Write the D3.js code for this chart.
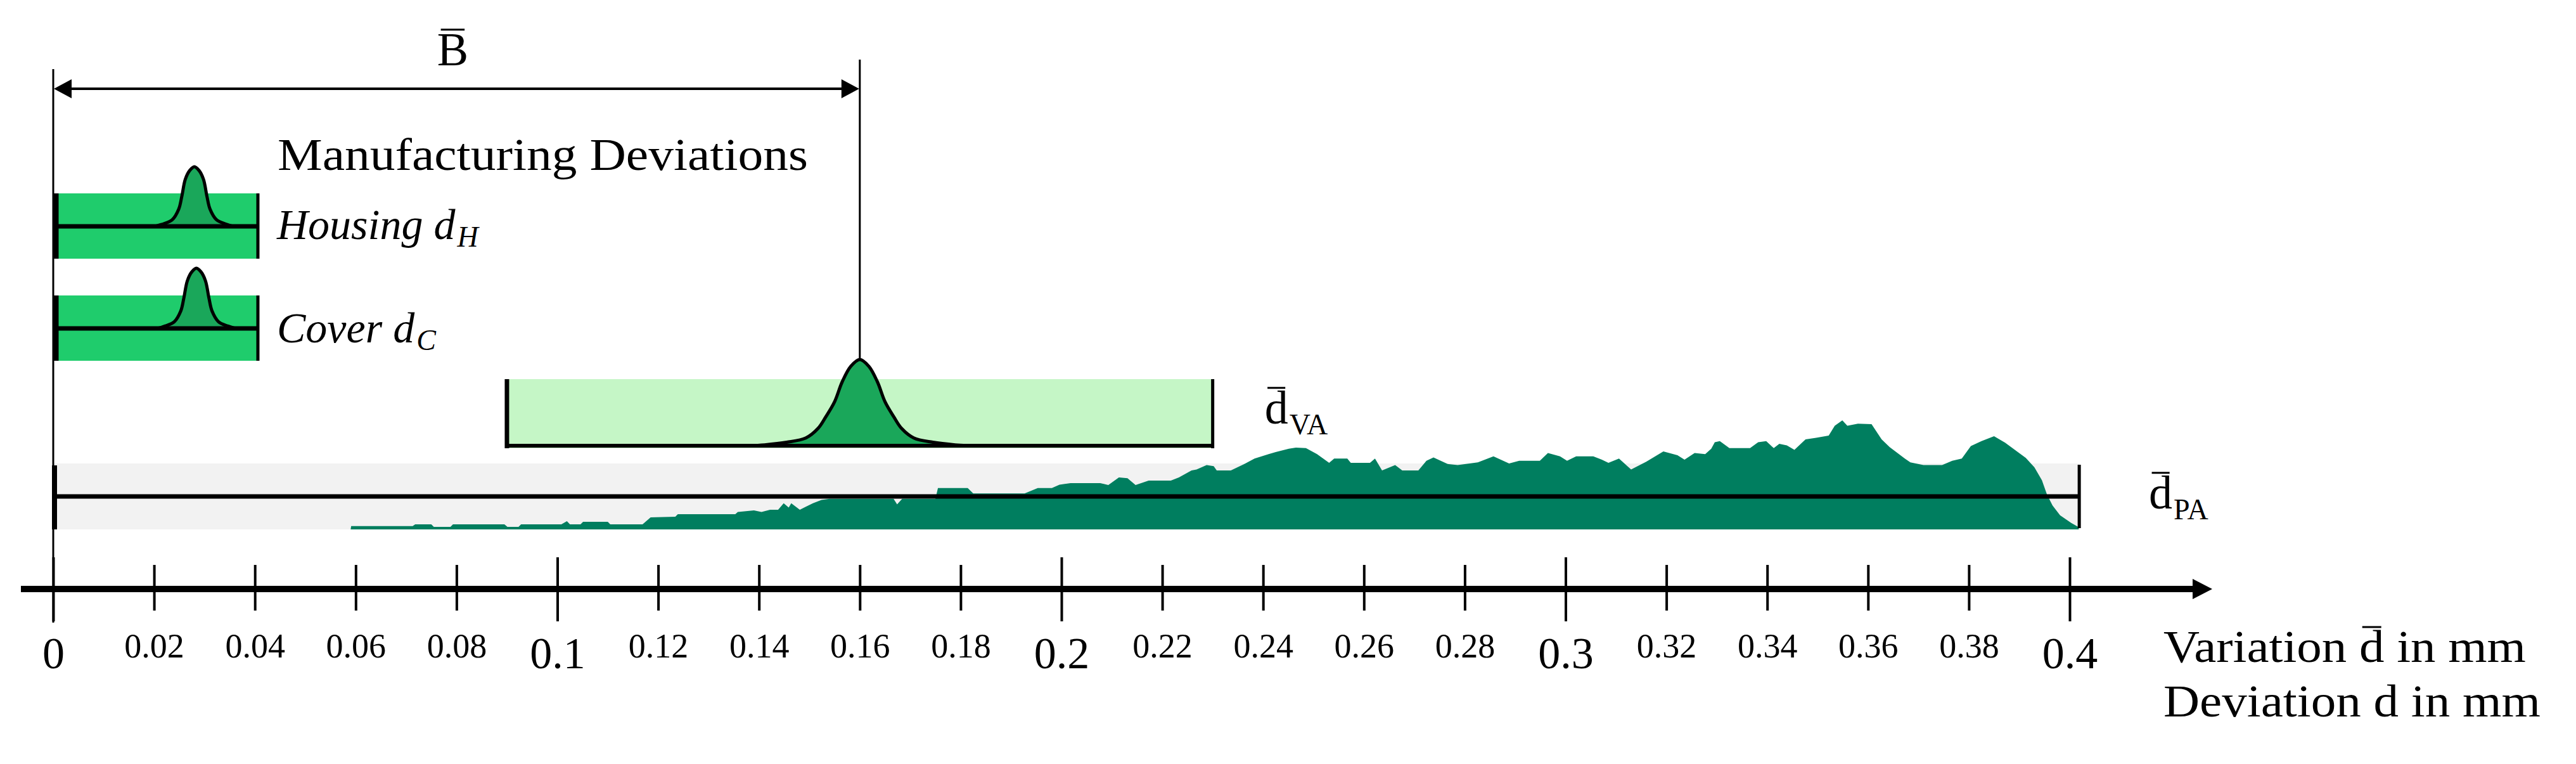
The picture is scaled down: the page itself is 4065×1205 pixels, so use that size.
<!DOCTYPE html>
<html>
<head>
<meta charset="utf-8">
<script src="https://cdn.jsdelivr.net/npm/d3@7"></script>
<style>
    html, body { margin: 0; padding: 0; background: #fff; }
    svg { display: block; font-family: "Liberation Serif", "DejaVu Serif", serif; }
</style>
</head>
<body>
<svg id="chart" width="4065" height="1205"></svg>
<script>
// --- Data ---
const tickValues = [0, 0.02, 0.04, 0.06, 0.08, 0.1, 0.12, 0.14, 0.16, 0.18, 0.2,
                    0.22, 0.24, 0.26, 0.28, 0.3, 0.32, 0.34, 0.36, 0.38, 0.4];
const majorTicks = [0, 0.1, 0.2, 0.3, 0.4];

// Manufacturing deviations of the single parts
const partNames = ["Housing", "Cover"];
const partSymbols = ["H", "C"];
const partRanges = [[0, 0.0406], [0, 0.0406]];
const partPeaks = [0.028, 0.0284];

// Bell shape of the part deviations (offset from peak in mm, relative height)
const partBellOffset = [-0.0078, -0.0062, -0.0044, -0.0031, -0.0025, -0.0018, -0.0009, 0,
                        0.0009, 0.0018, 0.0025, 0.0031, 0.0044, 0.0062, 0.0078];
const partBellHeight = [0, 0.04, 0.11, 0.29, 0.5, 0.79, 0.94, 1,
                        0.94, 0.79, 0.5, 0.29, 0.11, 0.04, 0];

// Variation analysis (VA)
const vaRange = [0.09, 0.23];
const vaPeak = 0.16;
const vaBellOffset = [-0.022, -0.0189, -0.0145, -0.0107, -0.0083, -0.0068, -0.005, -0.0035, -0.0018, 0,
                      0.0018, 0.0035, 0.005, 0.0068, 0.0083, 0.0107, 0.0145, 0.0189, 0.022];
const vaBellHeight = [0, 0.01, 0.04, 0.09, 0.2, 0.33, 0.51, 0.74, 0.92, 1,
                      0.92, 0.74, 0.51, 0.33, 0.2, 0.09, 0.04, 0.01, 0];

// Physical assembly (PA) measured deviations, share of the maximum in %
const paRange = [0, 0.4019];
const paDeviation = [
    0.0590, 0.0591, 0.0713, 0.0718, 0.0750, 0.0755, 0.0788, 0.0793, 0.0895, 0.0901,
    0.0923, 0.0928, 0.1008, 0.1019, 0.1025, 0.1046, 0.1051, 0.1100, 0.1105, 0.1169,
    0.1185, 0.1234, 0.1239, 0.1353, 0.1358, 0.1390, 0.1405, 0.1422, 0.1438, 0.1449,
    0.1459, 0.1464, 0.1481, 0.1507, 0.1524, 0.1540, 0.1667, 0.1674, 0.1684, 0.1750,
    0.1755, 0.1814, 0.1825, 0.1927, 0.1953, 0.1981, 0.1996, 0.2018, 0.2077, 0.2093,
    0.2114, 0.2131, 0.2147, 0.2173, 0.2217, 0.2233, 0.2258, 0.2268, 0.2288, 0.2302,
    0.2308, 0.2336, 0.2363, 0.2383, 0.2411, 0.2425, 0.2451, 0.2465, 0.2485, 0.2507,
    0.2531, 0.2541, 0.2567, 0.2574, 0.2612, 0.2622, 0.2636, 0.2662, 0.2676, 0.2708,
    0.2724, 0.2738, 0.2766, 0.2786, 0.2826, 0.2857, 0.2888, 0.2908, 0.2949, 0.2965,
    0.2989, 0.3003, 0.3021, 0.3055, 0.3072, 0.3085, 0.3106, 0.3130, 0.3160, 0.3194,
    0.3222, 0.3236, 0.3256, 0.3277, 0.3289, 0.3296, 0.3306, 0.3325, 0.3366, 0.3382,
    0.3398, 0.3413, 0.3424, 0.3439, 0.3454, 0.3476, 0.3497, 0.3522, 0.3534, 0.3549,
    0.3559, 0.3580, 0.3607, 0.3627, 0.3643, 0.3673, 0.3684, 0.3710, 0.3747, 0.3767,
    0.3786, 0.3804, 0.3825, 0.3850, 0.3872, 0.3913, 0.3930, 0.3945, 0.3955, 0.3966,
    0.3981, 0.4003, 0.4018];
const paShare = [
    0, 3, 3, 4.7, 4.7, 2.3, 2.3, 4.7, 4.7, 2.3,
    2.3, 4.7, 4.7, 7.6, 4.7, 4.7, 7, 7, 4.7, 4.7,
    11, 11.6, 14, 14, 16, 17.4, 16, 18, 18, 24,
    20, 24, 18, 24, 27, 28, 28, 23, 28, 28,
    38, 38, 33, 33, 38, 38, 41, 42.5, 42.5, 40.7,
    47.7, 47, 40.7, 44.8, 44.8, 47.7, 54, 55, 59, 58,
    54, 54, 60, 65, 69, 71, 74, 75, 74.5, 69,
    61, 65, 65, 61, 61, 65, 54, 59, 54, 54,
    63, 66, 60, 59, 61.5, 67, 60.5, 63, 63, 70,
    67, 63, 67, 67, 64, 61, 65, 55, 62, 71.5,
    68, 64, 70, 69, 74, 80, 81, 74.5, 74.5, 80,
    81, 74.5, 78.5, 77, 73, 82.5, 84, 86, 95, 100,
    95, 97, 96.5, 82.5, 75.5, 65, 61.5, 59, 59, 63,
    65, 76.5, 81, 85.5, 79.5, 65.5, 57, 45, 32, 22,
    13, 6, 2];

// --- Layout ---
const AXIS_Y = 929;
const partRows = [
    { top: 305, bottom: 408, base: 357, bell: 94, label: 377 },
    { top: 466, bottom: 569, base: 518, bell: 95, label: 540 }
];
const VA_ROW = { top: 598, bottom: 707, base: 703, bell: 136 };
const PA_ROW = { top: 731, bottom: 835, base: 783 };

const C_PART = "#1fcc6c";
const C_BELL = "#1aa75a";
const C_VA = "#c5f6c6";
const C_PA = "#007e5f";
const C_GRAY = "#f2f2f2";

const svg = d3.select("#chart");
const x = d3.scaleLinear().domain([0, 0.4]).range([84, 3266]);
const yPa = d3.scaleLinear().domain([0, 100]).range([PA_ROW.bottom, 663]);

function vline(xp, y1, y2, w) {
    svg.append("line").attr("x1", xp).attr("x2", xp).attr("y1", y1).attr("y2", y2)
        .attr("stroke", "#000").attr("stroke-width", w);
}
function hline(x1, x2, yp, w) {
    svg.append("line").attr("x1", x1).attr("x2", x2).attr("y1", yp).attr("y2", yp)
        .attr("stroke", "#000").attr("stroke-width", w);
}

/**
 * Draws a bell shaped distribution on a baseline.
 */
function drawBell(center, offsets, heights, base, h) {
    const pts = offsets.map((o, i) => [x(center + o), base - heights[i] * h]);
    const curve = d3.curveCatmullRom.alpha(0.5);
    svg.append("path")
        .attr("d", d3.area().x(d => d[0]).y0(base).y1(d => d[1]).curve(curve)(pts))
        .attr("fill", C_BELL);
    svg.append("path")
        .attr("d", d3.line().curve(curve)(pts))
        .attr("fill", "none").attr("stroke", "#000").attr("stroke-width", 5)
        .attr("stroke-linejoin", "round");
}

// 1. Physical assembly band with measured distribution
svg.append("rect")
    .attr("x", x(paRange[0])).attr("y", PA_ROW.top)
    .attr("width", x(paRange[1]) - x(paRange[0])).attr("height", PA_ROW.bottom - PA_ROW.top)
    .attr("fill", C_GRAY);

svg.append("path")
    .datum(paDeviation.map((d, i) => [d, paShare[i]]))
    .attr("d", d3.area().x(d => x(d[0])).y0(PA_ROW.bottom).y1(d => yPa(d[1])))
    .attr("fill", C_PA);

hline(x(paRange[0]), x(paRange[1]), PA_ROW.base, 7);
vline(x(paRange[0]) + 2, PA_ROW.top + 3, PA_ROW.bottom, 8);
vline(x(paRange[1]), PA_ROW.top + 2, PA_ROW.bottom - 2, 5);

// 2. Part deviations
partRows.forEach((row, i) => {
    const [a, b] = partRanges[i];
    svg.append("rect")
        .attr("x", x(a)).attr("y", row.top)
        .attr("width", x(b) - x(a)).attr("height", row.bottom - row.top)
        .attr("fill", C_PART);
    drawBell(partPeaks[i], partBellOffset, partBellHeight, row.base, row.bell);
    hline(x(a), x(b), row.base, 7);
    vline(x(a) + 4, row.top, row.bottom, 9);
    vline(x(b), row.top, row.bottom, 5);

    // name + italic d, subscript written as its own text next to it
    const main = svg.append("text")
        .attr("x", x(b) + 30).attr("y", row.label)
        .attr("font-size", 68).attr("font-style", "italic")
        .text(partNames[i] + " d");
    const bb = main.node().getBBox();
    svg.append("text")
        .attr("x", bb.x + bb.width + 2).attr("y", row.label + 12)
        .attr("font-size", 46).attr("font-style", "italic")
        .text(partSymbols[i]);
});

// 3. Variation analysis
svg.append("rect")
    .attr("x", x(vaRange[0])).attr("y", VA_ROW.top)
    .attr("width", x(vaRange[1]) - x(vaRange[0])).attr("height", VA_ROW.bottom - VA_ROW.top)
    .attr("fill", C_VA);
drawBell(vaPeak, vaBellOffset, vaBellHeight, VA_ROW.base, VA_ROW.bell);
hline(x(vaRange[0]), x(vaRange[1]), VA_ROW.base, 6);
vline(x(vaRange[0]), VA_ROW.top, VA_ROW.bottom, 7);
vline(x(vaRange[1]), VA_ROW.top, VA_ROW.bottom, 5);

// 4. Zero line and the B dimension
vline(x(0), 109, 982, 3);
vline(x(vaPeak), 94, VA_ROW.base - VA_ROW.bell, 3);

const DIM_Y = 140;
hline(x(0) + 10, x(vaPeak) - 10, DIM_Y, 4);
svg.append("path").attr("fill", "#000")
    .attr("d", `M${x(0) + 1},${DIM_Y} L${x(0) + 29},${DIM_Y - 15} L${x(0) + 29},${DIM_Y + 15} Z`);
svg.append("path").attr("fill", "#000")
    .attr("d", `M${x(vaPeak) - 1},${DIM_Y} L${x(vaPeak) - 29},${DIM_Y - 15} L${x(vaPeak) - 29},${DIM_Y + 15} Z`);

/**
 * Writes a glyph with an overline bar (used for the mean values).
 */
function barText(xp, yp, size, anchor, str) {
    const t = svg.append("text").attr("x", xp).attr("y", yp)
        .attr("font-size", size).attr("text-anchor", anchor).text(str);
    const bb = t.node().getBBox();
    const lineY = yp - size * 0.76;
    svg.append("line")
        .attr("x1", bb.x + bb.width * 0.12).attr("x2", bb.x + bb.width * 0.88)
        .attr("y1", lineY).attr("y2", lineY)
        .attr("stroke", "#000").attr("stroke-width", 3);
    return bb;
}

barText((x(0) + x(vaPeak)) / 2 - 6, 103, 74, "middle", "B");

svg.append("text").attr("x", 438).attr("y", 268).attr("font-size", 71)
    .attr("textLength", 837).attr("lengthAdjust", "spacingAndGlyphs")
    .text("Manufacturing Deviations");

// 5. Mean value labels
function meanLabel(xp, yp, sub) {
    const bb = barText(xp, yp, 74, "start", "d");
    svg.append("text").attr("x", bb.x + bb.width + 2).attr("y", yp + 17)
        .attr("font-size", 46).text(sub);
}
meanLabel(x(vaRange[1]) + 82, 668, "VA");
meanLabel(x(paRange[1]) + 110, 802, "PA");

// 6. Axis
const isMajor = d => majorTicks.includes(d);
const axis = d3.axisBottom(x).tickValues(tickValues).tickSize(0).tickFormat(d3.format("~g"));
const gAxis = svg.append("g")
    .attr("transform", `translate(0,${AXIS_Y})`)
    .call(axis);
gAxis.attr("font-family", null).attr("font-size", null);
gAxis.select(".domain").remove();
gAxis.selectAll(".tick line")
    .attr("y1", d => isMajor(d) ? -50 : -38)
    .attr("y2", d => isMajor(d) ? 51 : 34)
    .attr("stroke", "#000").attr("stroke-width", 4);
gAxis.selectAll(".tick text")
    .attr("y", d => isMajor(d) ? 125 : 108).attr("dy", 0)
    .attr("font-size", d => isMajor(d) ? 70 : 54)
    .attr("fill", "#000");

hline(33, 3465, AXIS_Y, 10);
svg.append("path").attr("fill", "#000")
    .attr("d", `M3491,${AXIS_Y} L3460,${AXIS_Y - 16} L3460,${AXIS_Y + 16} Z`);

// 7. Axis titles
const vt = svg.append("text").attr("x", 3414).attr("y", 1044).attr("font-size", 71)
    .attr("textLength", 572).attr("lengthAdjust", "spacingAndGlyphs");
vt.append("tspan").text("Variation ");
vt.append("tspan").text("d");
vt.append("tspan").text(" in mm");
{
    const n = vt.node();
    const s = n.getStartPositionOfChar(10).x, e = n.getEndPositionOfChar(10).x;
    svg.append("line").attr("x1", s + (e - s) * 0.12).attr("x2", e - (e - s) * 0.12)
        .attr("y1", 1044 - 55).attr("y2", 1044 - 55)
        .attr("stroke", "#000").attr("stroke-width", 3);
}
svg.append("text").attr("x", 3414).attr("y", 1130).attr("font-size", 71)
    .attr("textLength", 595).attr("lengthAdjust", "spacingAndGlyphs")
    .text("Deviation d in mm");
</script>
</body>
</html>
